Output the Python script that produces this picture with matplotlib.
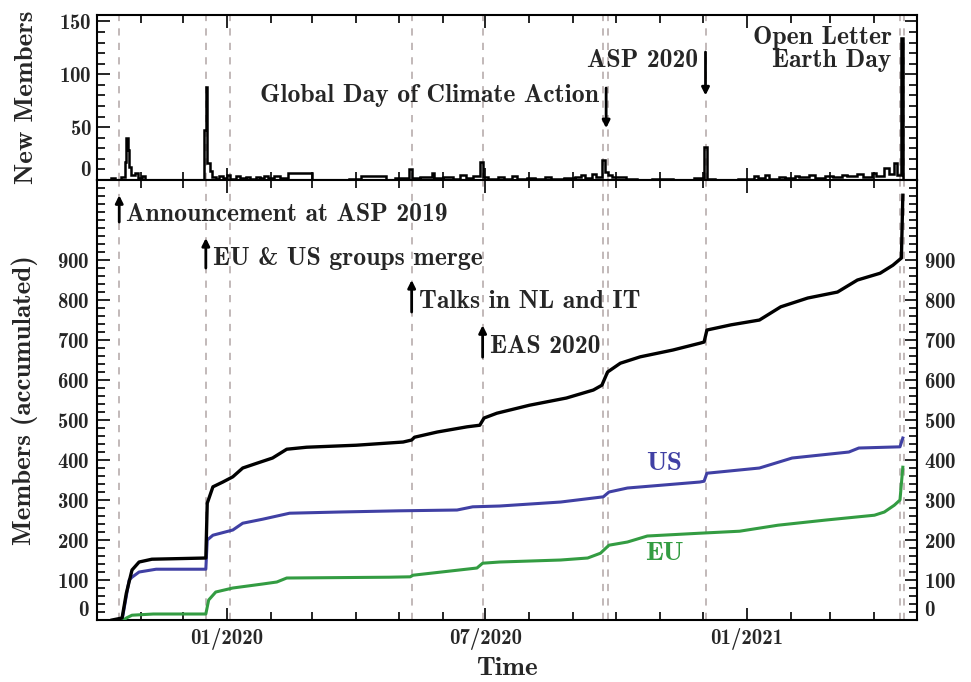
import matplotlib
matplotlib.use('Agg')
import matplotlib.pyplot as plt
import matplotlib.dates as mdates
from matplotlib.ticker import MultipleLocator
import pandas as pd

# top panel: new members per bin (bins start at these dates, last edge below)
new_bin_start = ['2019-10-01', '2019-10-11', '2019-10-14', '2019-10-18', '2019-10-21',
                 '2019-10-22', '2019-10-23', '2019-10-24', '2019-10-25', '2019-10-28',
                 '2019-10-30', '2019-11-02', '2019-11-04', '2019-12-16', '2019-12-17',
                 '2019-12-18', '2019-12-20', '2019-12-21', '2019-12-24', '2019-12-26',
                 '2019-12-29', '2020-01-01', '2020-01-03', '2020-01-07', '2020-01-10',
                 '2020-01-14', '2020-01-17', '2020-01-21', '2020-01-24', '2020-01-27',
                 '2020-01-30', '2020-02-03', '2020-02-07', '2020-02-13', '2020-03-01',
                 '2020-03-27', '2020-04-04', '2020-04-22', '2020-04-28', '2020-05-08',
                 '2020-05-10', '2020-05-16', '2020-05-24', '2020-05-26', '2020-06-01',
                 '2020-06-08', '2020-06-13', '2020-06-17', '2020-06-22', '2020-06-27',
                 '2020-06-29', '2020-07-03', '2020-07-10', '2020-07-14', '2020-07-20',
                 '2020-07-23', '2020-07-30', '2020-08-05', '2020-08-12', '2020-08-16',
                 '2020-08-25', '2020-09-02', '2020-09-06', '2020-09-09', '2020-09-14',
                 '2020-09-17', '2020-09-21', '2020-09-23', '2020-09-25', '2020-09-28',
                 '2020-10-08', '2020-10-16', '2020-10-26', '2020-11-10', '2020-11-25',
                 '2020-12-02', '2020-12-04', '2020-12-10', '2020-12-26', '2021-01-06',
                 '2021-01-09', '2021-01-14', '2021-01-17', '2021-01-24', '2021-01-28',
                 '2021-02-04', '2021-02-07', '2021-02-14', '2021-02-18', '2021-02-25',
                 '2021-03-03', '2021-03-09', '2021-03-13', '2021-03-20', '2021-03-24',
                 '2021-03-30', '2021-04-02', '2021-04-08', '2021-04-11', '2021-04-15',
                 '2021-04-17', '2021-04-20']
new_bin_count = [0, 2, 0, 3, 17,
                 40, 28, 12, 5, 7,
                 2, 4, 0, 47, 88,
                 16, 9, 3, 1, 4,
                 2, 5, 1, 4, 2,
                 3, 1, 3, 2, 4,
                 2, 4, 2, 7, 0,
                 1, 4, 0, 2, 10,
                 2, 3, 7, 2, 3,
                 1, 5, 2, 4, 17,
                 3, 1, 3, 1, 4,
                 1, 2, 1, 3, 1,
                 2, 3, 5, 2, 6,
                 3, 19, 8, 5, 3,
                 1, 0, 1, 0, 2,
                 31, 1, 0, 1, 4,
                 2, 5, 1, 3, 2,
                 4, 3, 5, 2, 4,
                 3, 5, 4, 6, 3,
                 7, 4, 11, 6, 16,
                 5, 134]
new_last_edge = '2021-04-21'

# bottom panel: accumulated members
total_dates = ['2019-10-12', '2019-10-19', '2019-10-22', '2019-10-26', '2019-10-31',
               '2019-11-09', '2019-12-17', '2019-12-18', '2019-12-22', '2019-12-29',
               '2020-01-05', '2020-01-12', '2020-01-22', '2020-02-02', '2020-02-12',
               '2020-02-26', '2020-04-01', '2020-05-04', '2020-05-10', '2020-05-12',
               '2020-05-28', '2020-06-18', '2020-06-27', '2020-06-30', '2020-07-09',
               '2020-08-01', '2020-08-27', '2020-09-15', '2020-09-21', '2020-09-25',
               '2020-10-04', '2020-10-18', '2020-11-10', '2020-11-29', '2020-12-02',
               '2020-12-04', '2020-12-21', '2021-01-10', '2021-01-25', '2021-02-13',
               '2021-03-06', '2021-03-20', '2021-04-05', '2021-04-14', '2021-04-20',
               '2021-04-21']
total_members = [0, 5, 67, 125, 145,
                 152, 155, 292, 333, 345,
                 358, 380, 392, 405, 427,
                 432, 437, 445, 450, 457,
                 470, 483, 487, 505, 517,
                 537, 555, 575, 587, 620,
                 642, 658, 675, 692, 695,
                 725, 738, 750, 783, 805,
                 820, 850, 867, 887, 905,
                 1062]

us_dates = ['2019-10-19', '2019-10-22', '2019-10-24', '2019-10-26', '2019-10-31',
            '2019-11-12', '2019-12-17', '2019-12-18', '2019-12-22', '2020-01-05',
            '2020-01-12', '2020-01-26', '2020-02-14', '2020-03-20', '2020-05-01',
            '2020-06-11', '2020-06-22', '2020-07-11', '2020-08-23', '2020-09-22',
            '2020-09-26', '2020-10-09', '2020-11-29', '2020-12-02', '2020-12-04',
            '2021-01-10', '2021-02-02', '2021-03-14', '2021-03-21', '2021-04-19',
            '2021-04-21']
us_members = [0, 60, 100, 107, 120,
              127, 127, 200, 212, 225,
              242, 252, 267, 270, 273,
              275, 283, 285, 295, 308,
              320, 330, 345, 347, 367,
              380, 405, 420, 430, 433,
              455]

eu_dates = ['2019-10-20', '2019-10-22', '2019-10-26', '2019-11-10', '2019-12-17',
            '2019-12-19', '2019-12-24', '2020-01-05', '2020-01-26', '2020-02-05',
            '2020-02-12', '2020-04-24', '2020-05-09', '2020-05-11', '2020-06-25',
            '2020-06-29', '2020-07-11', '2020-08-23', '2020-09-11', '2020-09-20',
            '2020-09-26', '2020-10-09', '2020-10-23', '2020-11-29', '2020-12-27',
            '2021-01-23', '2021-02-26', '2021-04-01', '2021-04-08', '2021-04-15',
            '2021-04-19', '2021-04-21']
eu_members = [0, 5, 12, 15, 15,
              50, 70, 80, 90, 95,
              105, 107, 108, 112, 130,
              142, 145, 150, 155, 167,
              187, 195, 210, 217, 222,
              237, 250, 262, 270, 287,
              300, 382]

event_dates = ['2019-10-17', '2019-12-17', '2020-01-03', '2020-05-10', '2020-06-29',
               '2020-09-22', '2020-09-25', '2020-12-03', '2021-04-19', '2021-04-22']

plt.rcParams['font.family'] = 'cmb10'
plt.rcParams['axes.formatter.use_mathtext'] = True
plt.rcParams['mathtext.fontset'] = 'cm'

TXT = '#262626'
FS_TICK = 15
FS_NOTE = 18.5
FS_LABEL = 19.5


def d(s):
    return mdates.date2num(pd.Timestamp(s))


fig = plt.figure(figsize=(9.71, 6.82), dpi=100)
ax_top = fig.add_axes([0.0994, 0.736, 0.8450, 0.242])
ax_bot = fig.add_axes([0.0994, 0.0909, 0.8450, 0.6451])

xmin, xmax = d('2019-10-01'), d('2021-05-01')

# event lines through both panels
for ax in (ax_top, ax_bot):
    for e in event_dates:
        ax.axvline(d(e), color='#bdb3b3', lw=1.3, ls=(0, (4, 4)), zorder=1)

# top: new members
edges = [d(s) for s in new_bin_start] + [d(new_last_edge)]
ax_top.stairs(new_bin_count, edges, color='black', lw=1.8, baseline=0, zorder=3)

# bottom: accumulated
ax_bot.plot([d(s) for s in total_dates], total_members, color='black', lw=2.4, zorder=4)
ax_bot.plot([d(s) for s in us_dates], us_members, color='#4040a4', lw=2.2, zorder=3)
ax_bot.plot([d(s) for s in eu_dates], eu_members, color='#339c42', lw=2.2, zorder=3)

for ax in (ax_top, ax_bot):
    ax.set_xlim(xmin, xmax)
    ax.xaxis.set_major_locator(mdates.MonthLocator(bymonth=[1, 7]))
    ax.xaxis.set_minor_locator(mdates.MonthLocator())
    ax.tick_params(which='both', direction='in', top=True, right=True,
                   colors='black', labelcolor=TXT, labelsize=FS_TICK, width=1.2)
    ax.tick_params(which='major', length=9)
    ax.tick_params(which='minor', length=6)
    for sp in ax.spines.values():
        sp.set_linewidth(1.5)

ax_top.set_ylim(0, 156)
ax_top.set_yticks([0, 50, 100, 150])
ax_top.yaxis.set_minor_locator(MultipleLocator(10))
ax_top.tick_params(axis='x', labelbottom=False)
ax_top.set_ylabel('New Members', fontsize=FS_LABEL, color=TXT, labelpad=15)

ax_bot.set_ylim(0, 1100)
ax_bot.set_yticks(range(0, 1000, 100))
ax_bot.yaxis.set_minor_locator(MultipleLocator(20))
ax_bot.tick_params(axis='y', labelright=True, pad=5)
ax_bot.tick_params(axis='x', pad=6)
ax_bot.xaxis.set_major_formatter(mdates.DateFormatter('%m/%Y'))
ax_bot.set_ylabel('Members (accumulated)', fontsize=FS_LABEL, color=TXT, labelpad=14)
ax_bot.set_xlabel('Time', fontsize=FS_LABEL, color=TXT, labelpad=5)

# raise the "0" labels a little, as in the original
for ax in (ax_top, ax_bot):
    t = ax.yaxis.get_major_ticks()[0]
    t.label1.set_va('bottom')
    t.label2.set_va('bottom')

arrow = dict(arrowstyle='-|>', color='black', lw=2.0, mutation_scale=11,
             shrinkA=0, shrinkB=0)

# upward arrows in bottom panel
bottom_notes = [('Announcement at ASP 2019', '2019-10-17', 995, 1062),
                ('EU & US groups merge', '2019-12-17', 880, 955),
                ('Talks in NL and IT', '2020-05-10', 770, 850),
                ('EAS 2020', '2020-06-29', 657, 737)]
for label, date, y0, y1 in bottom_notes:
    ax_bot.annotate('', xy=(d(date), y1), xytext=(d(date), y0), arrowprops=arrow, zorder=5)
    ax_bot.annotate(label, xy=(d(date), (y0 + y1) / 2), xytext=(5, -4),
                    textcoords='offset points', va='center', ha='left',
                    fontsize=FS_NOTE, color=TXT)

# downward arrows in top panel
top_notes = [('Global Day of Climate Action', '2020-09-24', 87, 49, 80),
             ('ASP 2020', '2020-12-03', 121, 80, 113)]
for label, date, y0, y1, ytxt in top_notes:
    ax_top.annotate('', xy=(d(date), y1), xytext=(d(date), y0), arrowprops=arrow, zorder=5)
    ax_top.annotate(label, xy=(d(date), ytxt), xytext=(-5, 0),
                    textcoords='offset points', va='center', ha='right',
                    fontsize=FS_NOTE, color=TXT)

ax_top.annotate('Open Letter\nEarth Day', xy=(d('2021-04-20'), 124), xytext=(-7, 0),
                textcoords='offset points', va='center', ha='right',
                multialignment='right', linespacing=1.0, fontsize=FS_NOTE, color=TXT)

ax_bot.text(d('2020-11-04'), 392, 'US', color='#4040a4', fontsize=FS_LABEL, ha='center', va='center')
ax_bot.text(d('2020-11-04'), 167, 'EU', color='#339c42', fontsize=FS_LABEL, ha='center', va='center')

fig.savefig('out.png', dpi=100, facecolor='white')
